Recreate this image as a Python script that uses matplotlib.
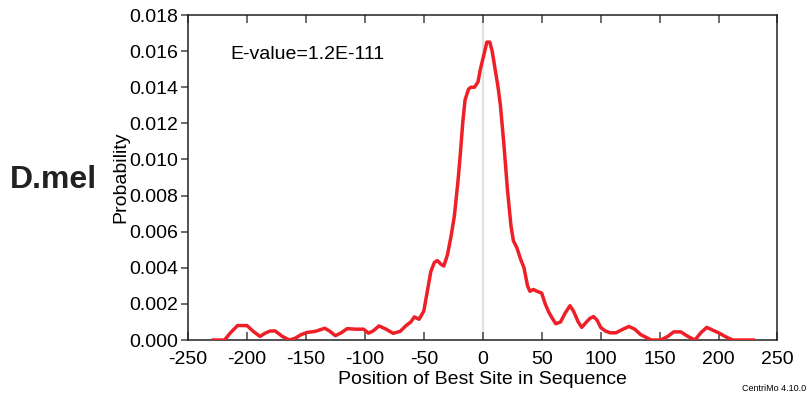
import matplotlib
matplotlib.use("Agg")
import matplotlib.pyplot as plt

plt.rcParams['font.family'] = ['Liberation Sans', 'DejaVu Sans']
plt.rcParams['axes.unicode_minus'] = False

# Site-position probability profile (position relative to sequence centre)
position = [-230, -219, -214, -208, -200, -195, -189, -184, -180, -176, -170, -164,
            -159, -154, -149, -142, -134, -130, -125, -120, -115, -108, -101, -97,
            -93, -88, -82, -76, -70, -65, -61, -58, -54, -50, -47, -44, -41, -38.5,
            -35.5, -33, -30, -27, -24, -21, -19, -17, -15, -12, -10, -7, -4, -2, 1,
            3.5, 6, 8, 10, 13, 15, 18, 21, 24, 26, 29, 32, 35, 38, 40, 43, 46, 50,
            53, 56, 59, 62, 66, 70, 74, 77, 81, 84, 88, 91, 94, 97, 100, 104, 108,
            113, 119, 124, 129, 134, 140, 143, 151, 157, 162, 168, 174, 180, 185,
            190, 195, 200, 207, 212, 231]
probability = [0.0, 0.0, 0.0004, 0.0008, 0.0008, 0.0005, 0.0002, 0.0004, 0.0005,
               0.0005, 0.0002, 0.0, 0.0001, 0.0003, 0.00042, 0.00048, 0.00065,
               0.0005, 0.00024, 0.0004, 0.00063, 0.0006, 0.0006, 0.00038, 0.0005,
               0.00078, 0.0006, 0.00037, 0.00048, 0.0008, 0.0010, 0.00128, 0.00115,
               0.0016, 0.0027, 0.0038, 0.0043, 0.0044, 0.0042, 0.0041, 0.0047,
               0.0057, 0.0069, 0.0088, 0.0103, 0.0120, 0.0133, 0.0139, 0.0140,
               0.0140, 0.0143, 0.0150, 0.0158, 0.0165, 0.0165, 0.0160, 0.0152,
               0.0140, 0.0130, 0.0108, 0.0083, 0.0063, 0.0055, 0.0051, 0.0045,
               0.0040, 0.0030, 0.0027, 0.0028, 0.0027, 0.0026, 0.0020, 0.00155,
               0.0012, 0.0009, 0.0010, 0.0015, 0.0019, 0.0016, 0.0010, 0.0007,
               0.0010, 0.0012, 0.0013, 0.0011, 0.0007, 0.0005, 0.0004, 0.0004,
               0.0006, 0.00075, 0.0006, 0.0003, 0.0001, 0.0, 0.0, 0.0002, 0.00045,
               0.00045, 0.0002, 0.0, 0.0004, 0.0007, 0.00055, 0.0004, 0.00015, 0.0,
               0.0]

x_ticks = [-250, -200, -150, -100, -50, 0, 50, 100, 150, 200, 250]
y_ticks = [0.000, 0.002, 0.004, 0.006, 0.008, 0.010, 0.012, 0.014, 0.016, 0.018]

fig = plt.figure(figsize=(8.09, 3.98), dpi=100)
ax = fig.add_axes([0.2324, 0.1457, 0.7286, 0.8166])

ax.axvline(0, color='#e2e2e2', lw=1.6, zorder=1)
ax.plot(position, probability, color='#ee1f27', lw=2.5, solid_joinstyle='round',
        solid_capstyle='butt', zorder=3)

ax.set_xlim(-250, 250)
ax.set_ylim(0, 0.018)
ax.set_xticks(x_ticks)
ax.set_xticklabels([str(v) for v in x_ticks])
ax.set_yticks(y_ticks)
ax.set_yticklabels([f"{v:.3f}" for v in y_ticks])

for s in ax.spines.values():
    s.set_color('#222222')
    s.set_linewidth(1.1)

ax.tick_params(axis='x', direction='in', top=True, bottom=True, length=6,
               width=1.1, color='#444444', labelsize=14, pad=8)
ax.tick_params(axis='y', direction='out', left=True, right=False, length=5,
               width=1.1, color='#444444', labelsize=14, pad=2)

ax.set_xlabel('Position of Best Site in Sequence', fontsize=14, labelpad=2)
ax.set_ylabel('Probability', fontsize=14, labelpad=0)

ax.text(-214, 0.0158, 'E-value=1.2E-111', fontsize=14, ha='left', va='center')

fig.text(0.012, 0.548, 'D.mel', fontsize=23, fontweight='bold', ha='left',
         va='center', color='#222222')
fig.text(0.996, 0.012, 'CentriMo 4.10.0', fontsize=6.5, ha='right', va='bottom')

fig.savefig('out.png', dpi=100)
